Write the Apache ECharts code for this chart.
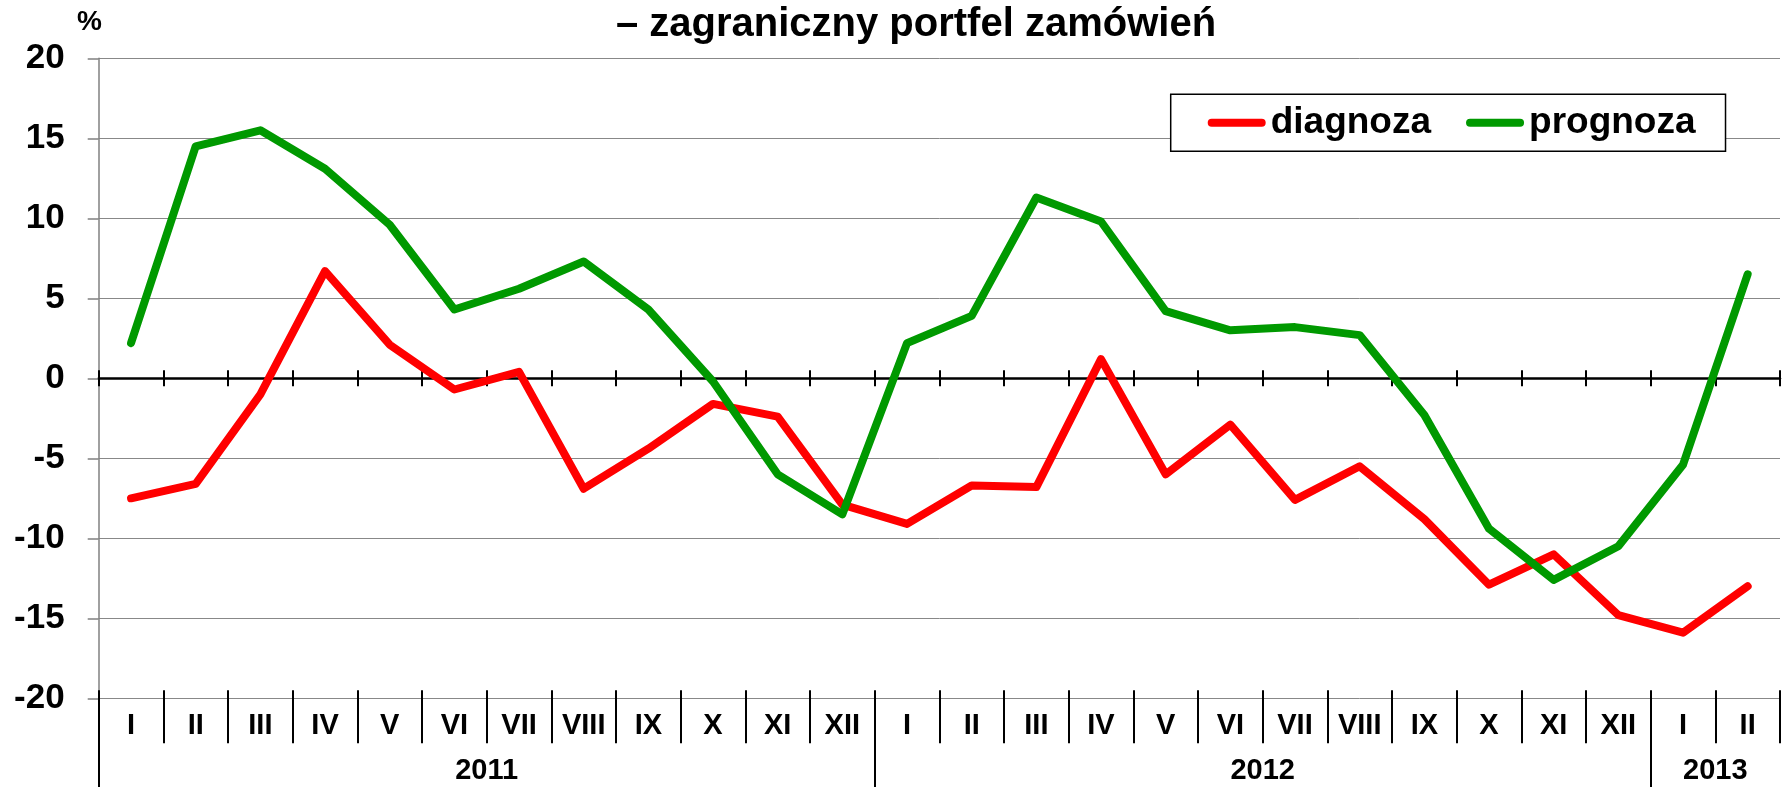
<!DOCTYPE html>
<html lang="pl">
<head>
  <meta charset="UTF-8">
  <title>zagraniczny portfel zamówień</title>
  <script src="https://cdn.jsdelivr.net/npm/echarts@6/dist/echarts.min.js"></script>
  <style>
    html, body { margin: 0; padding: 0; background: #fff; }
    #chart { width: 1783px; height: 787px; }
  </style>
</head>
<body>
  <div id="chart"></div>
  <script>
    // miesiące (I 2011 .. II 2013)
    const months = ['I', 'II', 'III', 'IV', 'V', 'VI', 'VII', 'VIII', 'IX', 'X', 'XI', 'XII',
                    'I', 'II', 'III', 'IV', 'V', 'VI', 'VII', 'VIII', 'IX', 'X', 'XI', 'XII',
                    'I', 'II'];
    const years = ['2011', '2012', '2013'];
    const yearSpans = [12, 12, 2];

    const diagnoza = [-7.5, -6.6, -1.0, 6.7, 2.1, -0.7, 0.4, -6.9, -4.4, -1.6, -2.4, -7.9,
                      -9.1, -6.7, -6.8, 1.2, -6.0, -2.9, -7.6, -5.5, -8.8, -12.9, -11.0, -14.8,
                      -15.9, -13.0];
    const prognoza = [2.2, 14.5, 15.5, 13.1, 9.6, 4.3, 5.6, 7.3, 4.3, -0.2, -6.0, -8.5,
                      2.2, 3.9, 11.3, 9.8, 4.2, 3.0, 3.2, 2.7, -2.3, -9.4, -12.6, -10.5,
                      -5.4, 6.5];

    const yMin = -20, yMax = 20, yStep = 5;

    const FONT = '"Liberation Sans", Arial, sans-serif';
    const black = { color: '#000', width: 2 };

    // year axis: one slot per month boundary, label in the middle of each year
    const yearSlots = new Array(months.length + 1).fill('');
    const yearStarts = [];
    let pos = 0;
    years.forEach((y, i) => {
      yearStarts.push(pos);
      yearSlots[pos + yearSpans[i] / 2] = y;
      pos += yearSpans[i];
    });

    const labelFont = { fontSize: 29, fontWeight: 'bold', fontFamily: FONT, color: '#000' };

    let chart = echarts.init(document.getElementById('chart'));

    const option = {
      animation: false,
      grid: { left: 98.7, top: 58.3, width: 1688, height: 640 },
      graphic: [
        {
          type: 'text', x: 916, y: 25,
          style: {
            text: '– zagraniczny portfel zamówień',
            font: 'bold 40px ' + FONT, fill: '#000',
            textAlign: 'center', align: 'center',
            textVerticalAlign: 'middle', verticalAlign: 'middle'
          }
        },
        {
          type: 'text', x: 89.5, y: 22,
          style: {
            text: '%', font: 'bold 28px ' + FONT, fill: '#000',
            textAlign: 'center', align: 'center',
            textVerticalAlign: 'middle', verticalAlign: 'middle'
          }
        }
      ],
      legend: {
        data: ['diagnoza', 'prognoza'],
        left: 1170.7, top: 94.3,
        selectedMode: false,
        icon: 'path://M4,0H54A4,4,0,0,1,54,8H4A4,4,0,0,1,4,0Z',
        itemWidth: 58, itemHeight: 8, itemGap: 35,
        padding: [10, 30, 10, 37],
        borderColor: '#000', borderWidth: 1.5, backgroundColor: '#fff',
        textStyle: { fontSize: 37, fontWeight: 'bold', fontFamily: FONT, color: '#000', lineHeight: 37 }
      },
      xAxis: [
        { // months row
          type: 'category', data: months, position: 'bottom',
          axisLine: { show: false, onZero: false },
          axisTick: { show: true, length: 45, lineStyle: black },
          axisLabel: Object.assign({ interval: 0, margin: 28, verticalAlign: 'middle' }, labelFont),
          splitLine: { show: false }
        },
        { // short ticks above the bottom line
          type: 'category', data: months, position: 'bottom',
          axisLine: { show: false, onZero: false },
          axisTick: { show: true, inside: true, length: 8, lineStyle: black },
          axisLabel: { show: false }
        },
        { // years row
          type: 'category', data: yearSlots, boundaryGap: false, position: 'bottom',
          axisLine: { show: false, onZero: false },
          axisTick: { show: true, length: 95, lineStyle: black,
                      interval: (idx) => yearStarts.includes(idx) },
          axisLabel: Object.assign({ interval: 0, margin: 73, verticalAlign: 'middle' }, labelFont)
        },
        { // zero line, ticks up
          type: 'category', data: months, position: 'bottom',
          axisLine: { show: true, onZero: true, onZeroAxisIndex: 0, lineStyle: { color: '#000', width: 2.5 } },
          axisTick: { show: true, inside: true, length: 8, lineStyle: black },
          axisLabel: { show: false }
        },
        { // zero line, ticks down
          type: 'category', data: months, position: 'bottom',
          axisLine: { show: false, onZero: true, onZeroAxisIndex: 0 },
          axisTick: { show: true, length: 8, lineStyle: black },
          axisLabel: { show: false }
        }
      ],
      yAxis: {
        type: 'value', min: yMin, max: yMax, interval: yStep,
        axisLine: { show: true, lineStyle: { color: '#808080', width: 1.5 } },
        axisTick: { show: true, length: 11, lineStyle: { color: '#808080', width: 1.5 } },
        axisLabel: { margin: 34, fontSize: 35, fontWeight: 'bold', fontFamily: FONT, color: '#000' },
        splitLine: { show: true, lineStyle: { color: '#888', width: 1 } }
      },
      series: [
        {
          name: 'diagnoza', type: 'line', data: diagnoza,
          xAxisIndex: 0, yAxisIndex: 0, symbol: 'none', z: 3,
          itemStyle: { color: '#ff0000' },
          lineStyle: { color: '#ff0000', width: 8, cap: 'round', join: 'round' }
        },
        {
          name: 'prognoza', type: 'line', data: prognoza,
          xAxisIndex: 0, yAxisIndex: 0, symbol: 'none', z: 4,
          itemStyle: { color: '#009900' },
          lineStyle: { color: '#009900', width: 8, cap: 'round', join: 'round' }
        }
      ]
    };

    chart.setOption(option);
  </script>
</body>
</html>
